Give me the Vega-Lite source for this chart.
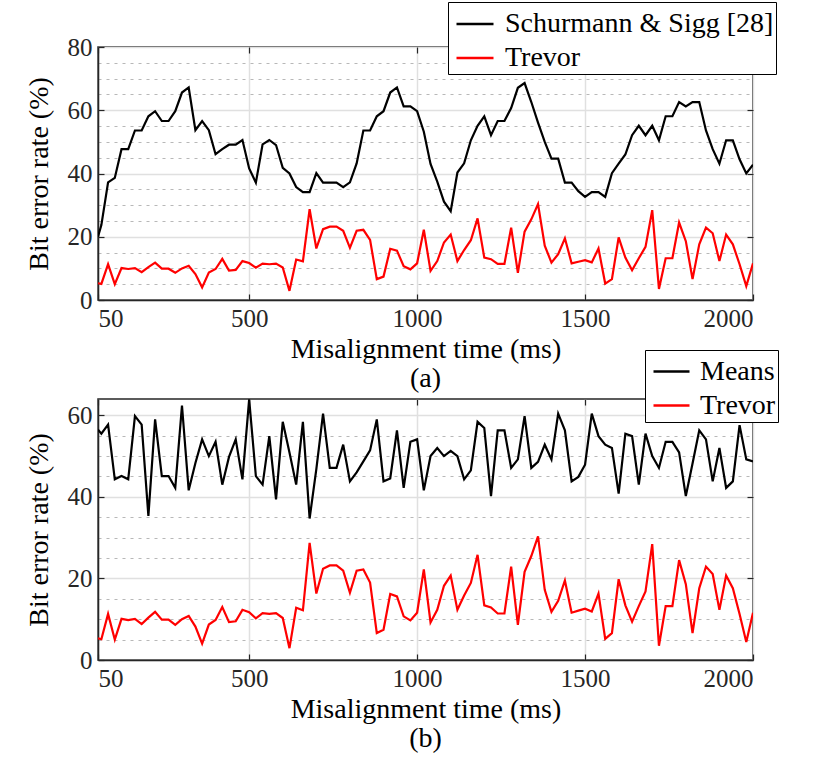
{
  "$schema": "https://vega.github.io/schema/vega-lite/v6.json",
  "background": "white",
  "padding": {"left": 24, "top": 0, "right": 4, "bottom": 4},
  "config": {
    "view": {"stroke": "#262626", "strokeWidth": 1.5},
    "axis": {
      "labelFont": "Times New Roman, Liberation Serif, serif",
      "titleFont": "Times New Roman, Liberation Serif, serif",
      "labelFontSize": 25,
      "titleFontSize": 28,
      "titleFontWeight": "normal",
      "labelColor": "#262626",
      "titleColor": "#000000",
      "domainColor": "#262626",
      "domainWidth": 1.5,
      "tickColor": "#262626",
      "tickWidth": 1.2,
      "labelOverlap": false
    },
    "legend": {"labelFont": "Times New Roman, Liberation Serif, serif"},
    "title": {"font": "Times New Roman, Liberation Serif, serif", "fontSize": 28, "fontWeight": "normal", "color": "#000000"}
  },
  "datasets": {
    "rates": [
      {"t": 50, "schurmann": 20, "trevor": 5.3, "means": 56.5},
      {"t": 60, "schurmann": 23.7, "trevor": 5.1, "means": 55.5},
      {"t": 80, "schurmann": 37.2, "trevor": 11.3, "means": 57.7},
      {"t": 100, "schurmann": 38.6, "trevor": 5.0, "means": 44.3},
      {"t": 120, "schurmann": 47.7, "trevor": 10.1, "means": 45.1},
      {"t": 140, "schurmann": 47.7, "trevor": 9.8, "means": 44.3},
      {"t": 160, "schurmann": 53.6, "trevor": 10.1, "means": 59.8},
      {"t": 180, "schurmann": 53.6, "trevor": 8.8, "means": 57.7},
      {"t": 200, "schurmann": 58.1, "trevor": 10.4, "means": 35.3},
      {"t": 220, "schurmann": 59.7, "trevor": 11.8, "means": 59.0},
      {"t": 240, "schurmann": 56.6, "trevor": 9.9, "means": 45.1},
      {"t": 260, "schurmann": 56.6, "trevor": 9.9, "means": 45.1},
      {"t": 280, "schurmann": 59.7, "trevor": 8.6, "means": 42.2},
      {"t": 300, "schurmann": 65.6, "trevor": 10.0, "means": 62.4},
      {"t": 320, "schurmann": 67.2, "trevor": 10.8, "means": 41.6},
      {"t": 340, "schurmann": 53.7, "trevor": 8.2, "means": 48.3},
      {"t": 360, "schurmann": 56.6, "trevor": 4.0, "means": 54.1},
      {"t": 380, "schurmann": 53.7, "trevor": 8.7, "means": 50.0},
      {"t": 400, "schurmann": 46.1, "trevor": 9.8, "means": 53.5},
      {"t": 420, "schurmann": 47.7, "trevor": 13.0, "means": 43.0},
      {"t": 440, "schurmann": 49.1, "trevor": 9.3, "means": 49.8},
      {"t": 460, "schurmann": 49.1, "trevor": 9.5, "means": 54.1},
      {"t": 480, "schurmann": 50.6, "trevor": 12.3, "means": 44.3},
      {"t": 500, "schurmann": 41.6, "trevor": 11.7, "means": 63.9},
      {"t": 520, "schurmann": 37.1, "trevor": 10.2, "means": 45.1},
      {"t": 540, "schurmann": 49.2, "trevor": 11.5, "means": 43.0},
      {"t": 560, "schurmann": 50.6, "trevor": 11.3, "means": 54.9},
      {"t": 580, "schurmann": 49.0, "trevor": 11.5, "means": 39.4},
      {"t": 600, "schurmann": 41.8, "trevor": 10.3, "means": 58.4},
      {"t": 620, "schurmann": 40.0, "trevor": 2.9, "means": 50.9},
      {"t": 640, "schurmann": 35.7, "trevor": 12.8, "means": 43.0},
      {"t": 660, "schurmann": 34.1, "trevor": 12.2, "means": 58.4},
      {"t": 680, "schurmann": 34.1, "trevor": 28.7, "means": 34.7},
      {"t": 700, "schurmann": 40.1, "trevor": 16.3, "means": 46.8},
      {"t": 720, "schurmann": 37.1, "trevor": 22.4, "means": 60.4},
      {"t": 740, "schurmann": 37.1, "trevor": 23.2, "means": 47.1},
      {"t": 760, "schurmann": 37.1, "trevor": 23.2, "means": 47.1},
      {"t": 780, "schurmann": 35.7, "trevor": 21.9, "means": 52.8},
      {"t": 800, "schurmann": 37.2, "trevor": 16.5, "means": 43.8},
      {"t": 820, "schurmann": 43.2, "trevor": 21.9, "means": 46.0},
      {"t": 840, "schurmann": 53.6, "trevor": 22.2, "means": 48.7},
      {"t": 860, "schurmann": 53.6, "trevor": 19.0, "means": 51.4},
      {"t": 880, "schurmann": 58.1, "trevor": 6.6, "means": 59.0},
      {"t": 900, "schurmann": 59.7, "trevor": 7.4, "means": 43.8},
      {"t": 920, "schurmann": 65.6, "trevor": 16.2, "means": 44.5},
      {"t": 940, "schurmann": 67.2, "trevor": 15.6, "means": 56.3},
      {"t": 960, "schurmann": 61.2, "trevor": 10.7, "means": 42.2},
      {"t": 980, "schurmann": 61.2, "trevor": 9.7, "means": 53.5},
      {"t": 1000, "schurmann": 59.7, "trevor": 11.6, "means": 54.1},
      {"t": 1020, "schurmann": 53.2, "trevor": 22.2, "means": 41.6},
      {"t": 1040, "schurmann": 43.0, "trevor": 9.2, "means": 50.0},
      {"t": 1060, "schurmann": 37.4, "trevor": 12.3, "means": 52.0},
      {"t": 1080, "schurmann": 31.1, "trevor": 18.2, "means": 50.0},
      {"t": 1100, "schurmann": 28.1, "trevor": 20.7, "means": 51.3},
      {"t": 1120, "schurmann": 40.3, "trevor": 12.3, "means": 50.0},
      {"t": 1140, "schurmann": 43.2, "trevor": 15.8, "means": 44.3},
      {"t": 1160, "schurmann": 50.5, "trevor": 18.9, "means": 46.5},
      {"t": 1180, "schurmann": 55.1, "trevor": 25.8, "means": 58.4},
      {"t": 1200, "schurmann": 58.1, "trevor": 13.4, "means": 56.9},
      {"t": 1220, "schurmann": 52.1, "trevor": 12.9, "means": 40.2},
      {"t": 1240, "schurmann": 56.6, "trevor": 11.4, "means": 56.3},
      {"t": 1260, "schurmann": 56.6, "trevor": 11.4, "means": 56.3},
      {"t": 1280, "schurmann": 60.7, "trevor": 22.9, "means": 47.1},
      {"t": 1300, "schurmann": 67.1, "trevor": 8.6, "means": 49.2},
      {"t": 1320, "schurmann": 68.6, "trevor": 21.6, "means": 59.8},
      {"t": 1340, "schurmann": 62.6, "trevor": 25.5, "means": 47.1},
      {"t": 1360, "schurmann": 56.1, "trevor": 30.3, "means": 48.6},
      {"t": 1380, "schurmann": 50.0, "trevor": 17.2, "means": 52.8},
      {"t": 1400, "schurmann": 44.7, "trevor": 11.8, "means": 49.2},
      {"t": 1420, "schurmann": 44.7, "trevor": 14.5, "means": 60.4},
      {"t": 1440, "schurmann": 37.1, "trevor": 19.5, "means": 56.3},
      {"t": 1460, "schurmann": 37.1, "trevor": 11.6, "means": 43.8},
      {"t": 1480, "schurmann": 34.4, "trevor": 12.1, "means": 44.9},
      {"t": 1500, "schurmann": 32.6, "trevor": 12.6, "means": 47.9},
      {"t": 1520, "schurmann": 34.1, "trevor": 11.9, "means": 60.4},
      {"t": 1540, "schurmann": 34.1, "trevor": 16.3, "means": 54.9},
      {"t": 1560, "schurmann": 32.6, "trevor": 5.2, "means": 52.8},
      {"t": 1580, "schurmann": 40.1, "trevor": 6.6, "means": 52.0},
      {"t": 1600, "schurmann": 43.1, "trevor": 19.8, "means": 40.8},
      {"t": 1620, "schurmann": 46.0, "trevor": 13.4, "means": 55.5},
      {"t": 1640, "schurmann": 52.1, "trevor": 9.4, "means": 54.9},
      {"t": 1660, "schurmann": 55.1, "trevor": 13.2, "means": 43.0},
      {"t": 1680, "schurmann": 52.1, "trevor": 16.8, "means": 55.5},
      {"t": 1700, "schurmann": 55.1, "trevor": 28.4, "means": 50.0},
      {"t": 1720, "schurmann": 50.5, "trevor": 3.5, "means": 47.1},
      {"t": 1740, "schurmann": 58.1, "trevor": 13.2, "means": 53.5},
      {"t": 1760, "schurmann": 58.1, "trevor": 13.2, "means": 53.5},
      {"t": 1780, "schurmann": 62.6, "trevor": 24.5, "means": 50.9},
      {"t": 1800, "schurmann": 61.2, "trevor": 18.6, "means": 40.2},
      {"t": 1820, "schurmann": 62.6, "trevor": 6.6, "means": 48.2},
      {"t": 1840, "schurmann": 62.6, "trevor": 17.6, "means": 56.3},
      {"t": 1860, "schurmann": 53.6, "trevor": 22.9, "means": 54.1},
      {"t": 1880, "schurmann": 47.7, "trevor": 21.1, "means": 43.8},
      {"t": 1900, "schurmann": 43.1, "trevor": 12.3, "means": 52.0},
      {"t": 1920, "schurmann": 50.5, "trevor": 20.7, "means": 42.2},
      {"t": 1940, "schurmann": 50.5, "trevor": 17.6, "means": 43.8},
      {"t": 1960, "schurmann": 44.5, "trevor": 11.3, "means": 57.6},
      {"t": 1980, "schurmann": 40.0, "trevor": 4.4, "means": 49.2},
      {"t": 2000, "schurmann": 42.8, "trevor": 11.6, "means": 48.7}
    ]
  },
  "vconcat": [
    {
      "width": 655,
      "height": 253,
      "title": {"text": "(a)", "orient": "bottom", "offset": 2},
      "data": {"name": "rates"},
      "transform": [{"fold": ["schurmann", "trevor"], "as": ["key", "v"]}],
      "layer": [
        {
          "mark": {"type": "line", "strokeWidth": 2.2, "clip": true},
          "encoding": {
            "x": {
              "field": "t", "type": "quantitative",
              "scale": {"domain": [50, 2000], "nice": false, "zero": false},
              "axis": {
                "values": [50, 500, 1000, 1500, 2000], "format": "d",
                "title": "Misalignment time (ms)",
                "grid": true, "gridColor": "#e0e0e0", "gridWidth": 1.5,
                "tickSize": -6, "labelPadding": 12, "titlePadding": 4
              }
            },
            "y": {
              "field": "v", "type": "quantitative",
              "scale": {"domain": [0, 80], "nice": false},
              "axis": {
                "values": [0, 5, 10, 15, 20, 25, 30, 35, 40, 45, 50, 55, 60, 65, 70, 75, 80],
                "title": "Bit error rate (%)",
                "labelExpr": "datum.value % 20 === 0 ? datum.label : ''",
                "grid": true,
                "gridColor": {"condition": {"test": "datum.value % 20 === 0", "value": "#e0e0e0"}, "value": "#b8b8b8"},
                "gridDash": {"condition": {"test": "datum.value % 20 === 0", "value": []}, "value": [3, 5]},
                "gridWidth": {"condition": {"test": "datum.value % 20 === 0", "value": 1.5}, "value": 1.2},
                "tickOpacity": {"condition": {"test": "datum.value % 20 === 0", "value": 1}, "value": 0},
                "tickSize": -6, "labelPadding": 12, "titlePadding": 14
              }
            },
            "color": {
              "field": "key", "type": "nominal",
              "scale": {"domain": ["schurmann", "trevor"], "range": ["#000000", "#ff0000"]},
              "legend": {
                "orient": "none", "legendX": 350, "legendY": -45,
                "title": null, "strokeColor": "#000000", "fillColor": "white",
                "padding": 2, "symbolOffset": 5, "symbolType": "stroke", "symbolSize": 1369,
                "symbolStrokeWidth": 2.5, "labelFontSize": 28, "labelColor": "#000000",
                "labelOffset": 10, "labelLimit": 0, "rowPadding": -6,
                "labelExpr": "datum.value === 'schurmann' ? 'Schurmann & Sigg [28]\u00a0\u00a0' : 'Trevor'"
              }
            }
          }
        },
        {
          "mark": {"type": "line", "opacity": 0},
          "encoding": {
            "x": {
              "field": "t", "type": "quantitative",
              "axis": {"orient": "top", "values": [50, 500, 1000, 1500, 2000], "labels": false, "title": null, "domain": false, "grid": false, "tickSize": -6}
            },
            "y": {
              "field": "v", "type": "quantitative",
              "axis": {"orient": "right", "values": [0, 20, 40, 60, 80], "labels": false, "title": null, "domain": false, "grid": false, "tickSize": -6}
            }
          }
        }
      ],
      "resolve": {"axis": {"x": "independent", "y": "independent"}}
    },
    {
      "width": 655,
      "height": 261,
      "title": {"text": "(b)", "orient": "bottom", "offset": 2},
      "data": {"name": "rates"},
      "transform": [{"fold": ["means", "trevor"], "as": ["key", "v"]}],
      "layer": [
        {
          "mark": {"type": "line", "strokeWidth": 2.2, "clip": true},
          "encoding": {
            "x": {
              "field": "t", "type": "quantitative",
              "scale": {"domain": [50, 2000], "nice": false, "zero": false},
              "axis": {
                "values": [50, 500, 1000, 1500, 2000], "format": "d",
                "title": "Misalignment time (ms)",
                "grid": true, "gridColor": "#e0e0e0", "gridWidth": 1.5,
                "tickSize": -6, "labelPadding": 12, "titlePadding": 4
              }
            },
            "y": {
              "field": "v", "type": "quantitative",
              "scale": {"domain": [0, 64], "nice": false},
              "axis": {
                "values": [0, 5, 10, 15, 20, 25, 30, 35, 40, 45, 50, 55, 60],
                "title": "Bit error rate (%)",
                "labelExpr": "datum.value % 20 === 0 ? datum.label : ''",
                "grid": true,
                "gridColor": {"condition": {"test": "datum.value % 20 === 0", "value": "#e0e0e0"}, "value": "#b8b8b8"},
                "gridDash": {"condition": {"test": "datum.value % 20 === 0", "value": []}, "value": [3, 5]},
                "gridWidth": {"condition": {"test": "datum.value % 20 === 0", "value": 1.5}, "value": 1.2},
                "tickOpacity": {"condition": {"test": "datum.value % 20 === 0", "value": 1}, "value": 0},
                "tickSize": -6, "labelPadding": 12, "titlePadding": 14
              }
            },
            "color": {
              "field": "key", "type": "nominal",
              "scale": {"domain": ["means", "trevor"], "range": ["#000000", "#ff0000"]},
              "legend": {
                "orient": "none", "legendX": 547, "legendY": -49,
                "title": null, "strokeColor": "#000000", "fillColor": "white",
                "padding": 2, "symbolOffset": 5, "symbolType": "stroke", "symbolSize": 1296,
                "symbolStrokeWidth": 2.5, "labelFontSize": 28, "labelColor": "#000000",
                "labelOffset": 9, "labelLimit": 0, "rowPadding": -6,
                "labelExpr": "datum.value === 'means' ? 'Means' : 'Trevor\u00a0'"
              }
            }
          }
        },
        {
          "mark": {"type": "line", "opacity": 0},
          "encoding": {
            "x": {
              "field": "t", "type": "quantitative",
              "axis": {"orient": "top", "values": [50, 500, 1000, 1500, 2000], "labels": false, "title": null, "domain": false, "grid": false, "tickSize": -6}
            },
            "y": {
              "field": "v", "type": "quantitative",
              "axis": {"orient": "right", "values": [0, 20, 40, 60], "labels": false, "title": null, "domain": false, "grid": false, "tickSize": -6}
            }
          }
        }
      ],
      "resolve": {"axis": {"x": "independent", "y": "independent"}}
    }
  ],
  "spacing": 99,
  "bounds": "flush",
  "resolve": {"scale": {"color": "independent"}, "legend": {"color": "independent"}}
}
